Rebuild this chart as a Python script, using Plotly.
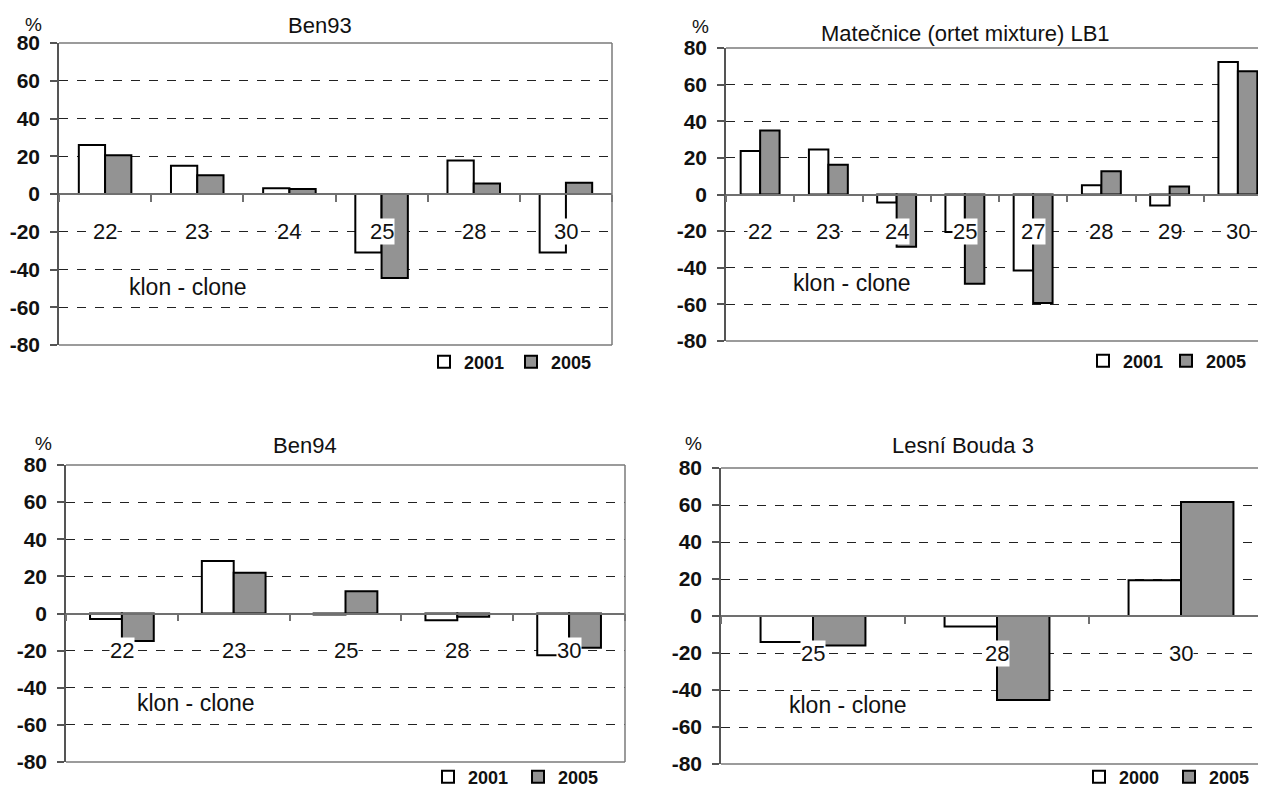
import plotly.graph_objects as go

W, H = 1266, 789          # browser window
OFF = 8                   # default body margin of the page
FW, FH = W - OFF, H - OFF # figure fills the window from the body margin on

# ---------------- data ----------------
y_ticks = [-80, -60, -40, -20, 0, 20, 40, 60, 80]

ben93_clones = ["22", "23", "24", "25", "28", "30"]
ben93_2001 = [26, 15, 3, -31, 17.7, -31]
ben93_2005 = [20.5, 10, 2.6, -44.5, 5.5, 6]

lb1_clones = ["22", "23", "24", "25", "27", "28", "29", "30"]
lb1_2001 = [23.7, 24.6, -4.4, -20.5, -41.5, 5.1, -6, 72.4]
lb1_2005 = [35, 16.3, -28.6, -48.7, -59.3, 12.7, 4.4, 67.3]

ben94_clones = ["22", "23", "25", "28", "30"]
ben94_2001 = [-2.9, 28.3, -0.5, -3.6, -22.5]
ben94_2005 = [-14.8, 22, 12, -1.8, -18.4]

lb3_clones = ["25", "28", "30"]
lb3_2000 = [-14.1, -5.7, 19.3]
lb3_2005 = [-15.9, -45.4, 61.6]

titles = ["Ben93", "Matečnice (ortet mixture) LB1", "Ben94", "Lesní Bouda 3"]
axis_label = "klon - clone"

# ---------------- layout helpers ----------------
def px(x):
    return (x - OFF) / FW

def py(y):
    return 1 - (y - OFF) / FH

FONT = "Liberation Sans, Arial, sans-serif"
WHITE = "#ffffff"
GREY = "#939393"

panels = [
    dict(clones=ben93_clones, a=ben93_2001, b=ben93_2005, na="2001", nb="2005",
         box=(59, 612, 43, 345), ncat=6, clip=False,
         title_xy=(320, 25), pct_xy=(33, 24), klon_xy=(188, 287),
         leg_xy=(424, 362), entry=42),
    dict(clones=lb1_clones, a=lb1_2001, b=lb1_2005, na="2001", nb="2005",
         box=(726, 1272, 48, 341), ncat=8, clip=True,
         title_xy=(965, 34), pct_xy=(700, 27), klon_xy=(852, 283),
         leg_xy=(1083, 361), entry=38),
    dict(clones=ben94_clones, a=ben94_2001, b=ben94_2005, na="2001", nb="2005",
         box=(66, 625, 465, 762), ncat=5, clip=False,
         title_xy=(305, 445), pct_xy=(43, 443), klon_xy=(196, 703),
         leg_xy=(428, 777), entry=45),
    dict(clones=lb3_clones, a=lb3_2000, b=lb3_2005, na="2000", nb="2005",
         box=(721, 1273, 468, 764), ncat=3, clip=True,
         title_xy=(963, 445), pct_xy=(693, 443), klon_xy=(848, 705),
         leg_xy=(1079, 777), entry=45),
]

fig = go.Figure()
annotations = []
shapes = []
layout = dict()

for i, p in enumerate(panels, start=1):
    sfx = "" if i == 1 else str(i)
    x0, x1, ytop, ybot = p["box"]
    catw = (x1 - x0) / p["ncat"]
    x1c = min(x1, W)
    rmax = -0.5 + (x1c - x0) / catw
    xdom = [px(x0), min(1.0, px(x1c))]
    ydom = [py(ybot), py(ytop)]
    yzero = (ydom[0] + ydom[1]) / 2
    leg = "legend" + sfx

    fig.add_trace(go.Bar(
        x=p["clones"], y=p["a"], name=p["na"],
        xaxis="x" + sfx, yaxis="y" + sfx, legend=leg,
        marker=dict(color=WHITE, line=dict(color="#000000", width=2)),
        hoverinfo="x+y",
    ))
    fig.add_trace(go.Bar(
        x=p["clones"], y=p["b"], name=p["nb"],
        xaxis="x" + sfx, yaxis="y" + sfx, legend=leg,
        marker=dict(color=GREY, line=dict(color="#000000", width=2)),
        hoverinfo="x+y",
    ))

    layout["xaxis" + sfx] = dict(
        domain=xdom, type="category", range=[-0.5, rmax],
        anchor="free", position=yzero, automargin=False,
        showline=True, linecolor="#707070", linewidth=1.5,
        ticks="outside", tickson="boundaries", ticklen=7, tickcolor="#707070", tickwidth=1.5,
        showticklabels=False, showgrid=False, zeroline=False, fixedrange=True,
    )
    layout["yaxis" + sfx] = dict(
        domain=ydom, range=[-80, 80], anchor="x" + sfx, automargin=False,
        tickmode="array", tickvals=y_ticks, ticktext=[str(v) for v in y_ticks],
        tickfont=dict(family=FONT, size=21, color="#111111", weight="bold"),
        ticks="outside", ticklen=7, tickcolor="#555555", tickwidth=1.5,
        ticklabelstandoff=6,
        showline=True, linecolor="#555555", linewidth=1.5,
        showgrid=True, gridcolor="#222222", gridwidth=1, griddash="dash",
        zeroline=True, zerolinecolor="#707070", zerolinewidth=1.5, fixedrange=True,
    )

    # frame (top, bottom, right)
    fr = dict(xref="paper", yref="paper", line=dict(color="#7a7a7a", width=1.5), layer="above")
    shapes.append(dict(type="line", x0=xdom[0], x1=xdom[1], y0=ydom[1], y1=ydom[1], **fr))
    shapes.append(dict(type="line", x0=xdom[0], x1=xdom[1], y0=ydom[0], y1=ydom[0], **fr))
    if not p["clip"]:
        shapes.append(dict(type="line", x0=xdom[1], x1=xdom[1], y0=ydom[0], y1=ydom[1], **fr))

    # category labels on the -20 line with white background (category index positions)
    for j, c in enumerate(p["clones"]):
        annotations.append(dict(
            x=j, y=-20, xref="x" + sfx, yref="y" + sfx, text=c, showarrow=False,
            font=dict(family=FONT, size=22, color="#111111"),
            bgcolor=WHITE, borderpad=0, xanchor="center", yanchor="middle",
        ))

    tx, ty = p["title_xy"]
    annotations.append(dict(x=px(tx), y=py(ty), xref="paper", yref="paper", text=titles[i - 1],
                            showarrow=False, font=dict(family=FONT, size=22, color="#111111"),
                            xanchor="center", yanchor="middle"))
    qx, qy = p["pct_xy"]
    annotations.append(dict(x=px(qx), y=py(qy), xref="paper", yref="paper", text="%",
                            showarrow=False, font=dict(family=FONT, size=19, color="#111111"),
                            xanchor="center", yanchor="middle"))
    kx, ky = p["klon_xy"]
    annotations.append(dict(x=px(kx), y=py(ky), xref="paper", yref="paper", text=axis_label,
                            showarrow=False, font=dict(family=FONT, size=23, color="#111111"),
                            xanchor="center", yanchor="middle"))

    lx, ly = p["leg_xy"]
    layout[leg] = dict(
        x=px(lx), y=py(ly), xanchor="left", yanchor="middle",
        xref="paper", yref="paper",
        orientation="h", bgcolor="rgba(0,0,0,0)", borderwidth=0,
        font=dict(family=FONT, size=18, color="#111111", weight="bold"),
        itemwidth=30, entrywidth=p["entry"], entrywidthmode="pixels",
        itemclick=False, itemdoubleclick=False, traceorder="normal",
    )

fig.update_layout(
    width=FW, height=FH, template="none",
    margin=dict(l=0, r=0, t=0, b=0, pad=0, autoexpand=False),
    paper_bgcolor="white", plot_bgcolor="white",
    barmode="group", bargap=0.43, bargroupgap=0,
    showlegend=True,
    annotations=annotations, shapes=shapes,
    **layout,
)

fig.write_html("out.html")
